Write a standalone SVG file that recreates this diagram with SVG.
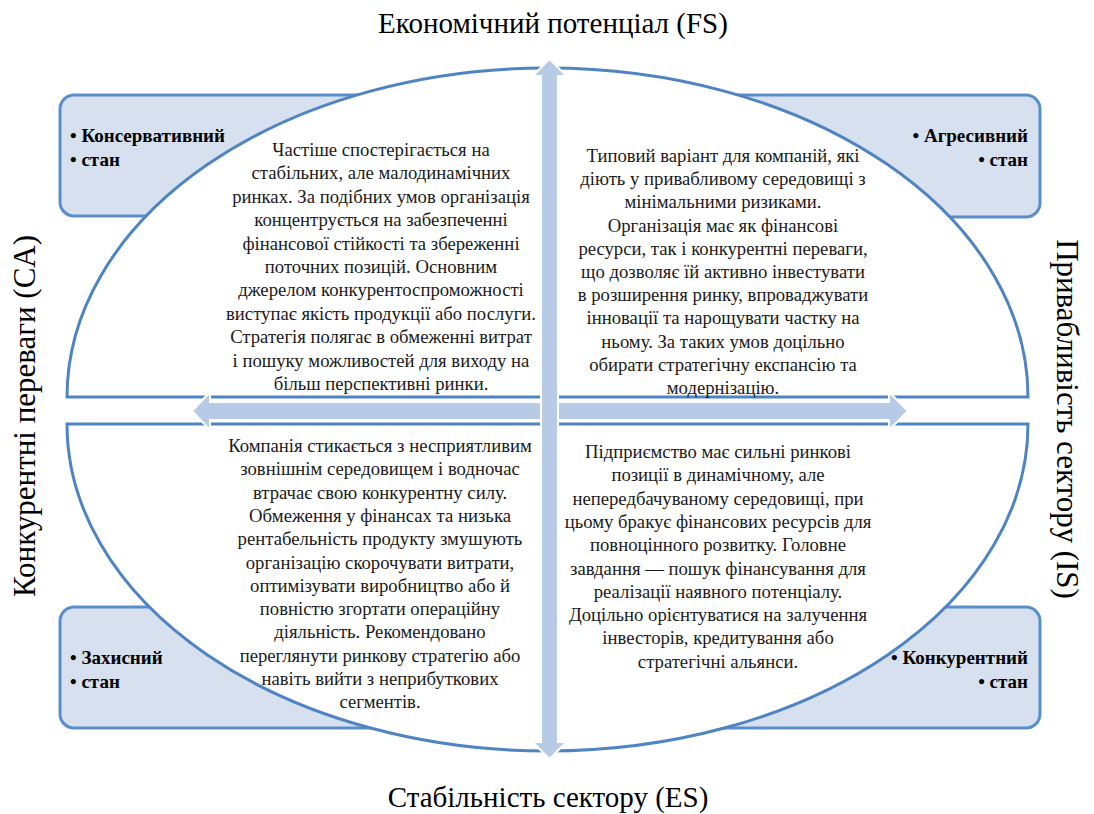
<svg xmlns="http://www.w3.org/2000/svg" width="1094" height="814" viewBox="0 0 1094 814">
<style>
.box{fill:#D6E0EE;stroke:#5A8ECB;stroke-width:3}
.half{fill:#FFFFFF;stroke:#4F84C4;stroke-width:3}
.arrow{fill:#B7CBE7;stroke:#FFFFFF;stroke-width:2}
.title{font-family:"Liberation Serif","Times New Roman",serif;font-size:29px;fill:#000}
.side{font-family:"Liberation Serif","Times New Roman",serif;font-size:31px;fill:#000}
.body{font-family:"Liberation Serif","Times New Roman",serif;font-size:18.7px;fill:#1a1a1a;text-anchor:middle}
.lbl{font-family:"Liberation Serif","Times New Roman",serif;font-size:19px;font-weight:bold;fill:#000}
</style>
<rect width="1094" height="814" fill="#FFFFFF"/>
<g id="box-conservative">
<rect class="box" x="60" y="95" width="380" height="121" rx="14"/>
<text class="lbl" x="70" y="142">• Консервативний</text>
<text class="lbl" x="70" y="166">• стан</text>
</g>
<g id="box-aggressive">
<rect class="box" x="655" y="95" width="385" height="122" rx="14"/>
<text class="lbl" x="1028" y="142" text-anchor="end">• Агресивний</text>
<text class="lbl" x="1028" y="166" text-anchor="end">• стан</text>
</g>
<g id="box-defensive">
<rect class="box" x="60" y="607" width="380" height="121" rx="14"/>
<text class="lbl" x="70" y="664">• Захисний</text>
<text class="lbl" x="70" y="688">• стан</text>
</g>
<g id="box-competitive">
<rect class="box" x="655" y="607" width="385" height="121" rx="14"/>
<text class="lbl" x="1028" y="664" text-anchor="end">• Конкурентний</text>
<text class="lbl" x="1028" y="688" text-anchor="end">• стан</text>
</g>
<g id="upper-half">
<path class="half" d="M67,397 A480.5,329 0 0 1 1028,397 Z"/>
</g>
<g id="lower-half">
<path class="half" d="M67,424 A480.5,327 0 0 0 1028,424 Z"/>
</g>
<g id="connectors">
<polygon class="arrow" points="192,411 210,392 210,402 889,402 889,392 908,411 889,430 889,420 210,420 210,430"/>
<polygon class="arrow" points="549.5,59 566.5,76 558,76 558,742 566.5,742 549.5,759 532.5,742 541,742 541,76 532.5,76"/>
</g>
<g id="text-conservative">
<text class="body" x="381" y="156">Частіше спостерігається на</text>
<text class="body" x="381" y="179.4">стабільних, але малодинамічних</text>
<text class="body" x="381" y="202.8">ринках. За подібних умов організація</text>
<text class="body" x="381" y="226.2">концентрується на забезпеченні</text>
<text class="body" x="381" y="249.6">фінансової стійкості та збереженні</text>
<text class="body" x="381" y="273">поточних позицій. Основним</text>
<text class="body" x="381" y="296.4">джерелом конкурентоспроможності</text>
<text class="body" x="381" y="319.8">виступає якість продукції або послуги.</text>
<text class="body" x="381" y="343.2">Стратегія полягає в обмеженні витрат</text>
<text class="body" x="381" y="366.6">і пошуку можливостей для виходу на</text>
<text class="body" x="381" y="390">більш перспективні ринки.</text>
</g>
<g id="text-aggressive">
<text class="body" x="723" y="162">Типовий варіант для компаній, які</text>
<text class="body" x="723" y="185.2">діють у привабливому середовищі з</text>
<text class="body" x="723" y="208.4">мінімальними ризиками.</text>
<text class="body" x="723" y="231.6">Організація має як фінансові</text>
<text class="body" x="723" y="254.8">ресурси, так і конкурентні переваги,</text>
<text class="body" x="723" y="278">що дозволяє їй активно інвестувати</text>
<text class="body" x="723" y="301.2">в розширення ринку, впроваджувати</text>
<text class="body" x="723" y="324.4">інновації та нарощувати частку на</text>
<text class="body" x="723" y="347.6">ньому. За таких умов доцільно</text>
<text class="body" x="723" y="370.8">обирати стратегічну експансію та</text>
<text class="body" x="723" y="394">модернізацію.</text>
</g>
<g id="text-defensive">
<text class="body" x="380" y="452">Компанія стикається з несприятливим</text>
<text class="body" x="380" y="475.3">зовнішнім середовищем і водночас</text>
<text class="body" x="380" y="498.6">втрачає свою конкурентну силу.</text>
<text class="body" x="380" y="521.9">Обмеження у фінансах та низька</text>
<text class="body" x="380" y="545.2">рентабельність продукту змушують</text>
<text class="body" x="380" y="568.5">організацію скорочувати витрати,</text>
<text class="body" x="380" y="591.8">оптимізувати виробництво або й</text>
<text class="body" x="380" y="615.1">повністю згортати операційну</text>
<text class="body" x="380" y="638.4">діяльність. Рекомендовано</text>
<text class="body" x="380" y="661.7">переглянути ринкову стратегію або</text>
<text class="body" x="380" y="685">навіть вийти з неприбуткових</text>
<text class="body" x="380" y="708.3">сегментів.</text>
</g>
<g id="text-competitive">
<text class="body" x="718" y="458">Підприємство має сильні ринкові</text>
<text class="body" x="718" y="481.3">позиції в динамічному, але</text>
<text class="body" x="718" y="504.6">непередбачуваному середовищі, при</text>
<text class="body" x="718" y="527.9">цьому бракує фінансових ресурсів для</text>
<text class="body" x="718" y="551.2">повноцінного розвитку. Головне</text>
<text class="body" x="718" y="574.5">завдання — пошук фінансування для</text>
<text class="body" x="718" y="597.8">реалізації наявного потенціалу.</text>
<text class="body" x="718" y="621.1">Доцільно орієнтуватися на залучення</text>
<text class="body" x="718" y="644.4">інвесторів, кредитування або</text>
<text class="body" x="718" y="667.7">стратегічні альянси.</text>
</g>
<g id="axis-labels">
<text class="title" x="553" y="33" text-anchor="middle">Економічний потенціал (FS)</text>
<text class="title" x="548" y="807" text-anchor="middle">Стабільність сектору (ES)</text>
<text class="side" text-anchor="middle" transform="translate(35,416) rotate(-90)">Конкурентні переваги (CA)</text>
<text class="side" text-anchor="middle" transform="translate(1057,419) rotate(90)">Привабливість сектору (IS)</text>
</g>
</svg>
